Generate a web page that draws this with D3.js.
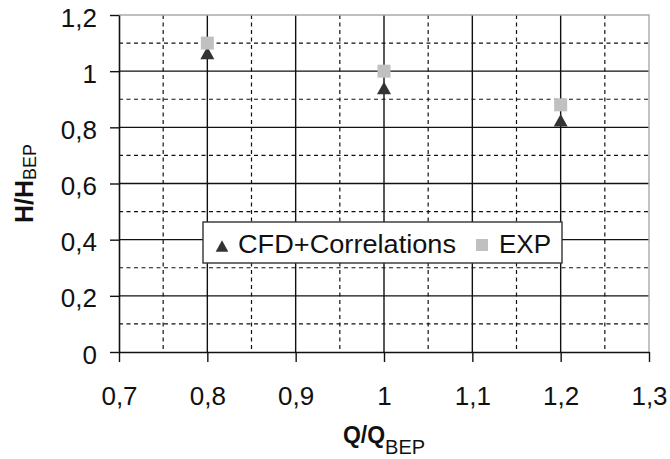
<!DOCTYPE html>
<html>
<head>
<meta charset="utf-8">
<script src="https://cdn.jsdelivr.net/npm/d3@7"></script>
<style>
  html, body { margin: 0; padding: 0; background: #fff; }
  svg { display: block; font-family: "Liberation Sans", Arial, sans-serif; }
</style>
</head>
<body>
<svg id="chart" width="670" height="459"></svg>
<script>
// ---- data ----
const flowRatio = [0.8, 1.0, 1.2];           // Q/Q_BEP
const cfdHead   = [1.065, 0.94, 0.825];      // CFD+Correlations H/H_BEP
const expHead   = [1.10, 1.00, 0.88];        // EXP H/H_BEP
const xTicks = [0.7, 0.8, 0.9, 1.0, 1.1, 1.2, 1.3];
const yTicks = [0, 0.2, 0.4, 0.6, 0.8, 1.0, 1.2];
const xMinor = [0.75, 0.85, 0.95, 1.05, 1.15, 1.25];
const yMinor = [0.1, 0.3, 0.5, 0.7, 0.9, 1.1];
const seriesNames = ["CFD+Correlations", "EXP"];

const svg = d3.select("#chart");
const pL = 119, pR = 649, pT = 15, pB = 352;
const x = d3.scaleLinear().domain([0.7, 1.3]).range([pL, pR]);
const y = d3.scaleLinear().domain([0, 1.2]).range([pB, pT]);
const loc = d3.formatLocale({decimal: ",", thousands: ".", grouping: [3], currency: ["", ""]});
const fmt = v => loc.format("~g")(+v.toFixed(2));

// minor dashed grid
const g = svg.append("g");
g.selectAll("line.vmin").data(xMinor).join("line")
  .attr("x1", d => x(d)).attr("x2", d => x(d)).attr("y1", pT).attr("y2", pB)
  .attr("stroke", "#111").attr("stroke-width", 1.2).attr("stroke-dasharray", "4,3.5");
g.selectAll("line.hmin").data(yMinor).join("line")
  .attr("y1", d => y(d)).attr("y2", d => y(d)).attr("x1", pL).attr("x2", pR)
  .attr("stroke", "#111").attr("stroke-width", 1.2).attr("stroke-dasharray", "4,3.5");
// major solid grid
g.selectAll("line.vmaj").data(xTicks.slice(1, -1)).join("line")
  .attr("x1", d => x(d)).attr("x2", d => x(d)).attr("y1", pT).attr("y2", pB)
  .attr("stroke", "#111").attr("stroke-width", 1.4);
g.selectAll("line.hmaj").data(yTicks.slice(1, -1)).join("line")
  .attr("y1", d => y(d)).attr("y2", d => y(d)).attr("x1", pL).attr("x2", pR)
  .attr("stroke", "#111").attr("stroke-width", 1.4);
// top/right border (gray)
svg.append("path")
  .attr("d", `M${pL},${y(1.2)}H${x(1.3)}V${pB}`)
  .attr("fill", "none").attr("stroke", "#aaa").attr("stroke-width", 1.4);

// axes
const xAxis = svg.append("g").attr("transform", `translate(0,${pB})`)
  .call(d3.axisBottom(x).tickValues(xTicks).tickFormat(fmt).tickSize(10).tickPadding(0).tickSizeOuter(0));
const yAxis = svg.append("g").attr("transform", `translate(${pL},0)`)
  .call(d3.axisLeft(y).tickValues(yTicks).tickFormat(fmt).tickSize(9).tickPadding(0).tickSizeOuter(0));
[xAxis, yAxis].forEach(a => {
  a.select(".domain").attr("stroke", "#111").attr("stroke-width", 1.6);
  a.selectAll(".tick line").attr("stroke", "#111").attr("stroke-width", 1.4);
  a.selectAll(".tick text").attr("fill", "#111").attr("font-size", 26)
    .attr("font-family", "'Liberation Sans', Arial, sans-serif");
});
xAxis.selectAll(".tick text").attr("dy", null).attr("y", 53);
yAxis.selectAll(".tick text").attr("dy", null).attr("x", -22).attr("y", 11);

// triangle centered on its bounding box
const triType = {
  draw(ctx, size) {
    const w = Math.sqrt(size), h = w * 0.9;
    ctx.moveTo(0, -h / 2); ctx.lineTo(w / 2, h / 2); ctx.lineTo(-w / 2, h / 2); ctx.closePath();
  }
};
const tri = d3.symbol().type(triType).size(196)();
const sq = d3.symbol().type(d3.symbolSquare).size(169)();

svg.append("g").selectAll("path").data(flowRatio).join("path")
  .attr("d", tri).attr("fill", "#333")
  .attr("transform", (d, i) => `translate(${x(d)},${y(cfdHead[i])})`);
svg.append("g").selectAll("path").data(flowRatio).join("path")
  .attr("d", sq).attr("fill", "#c0c0c0")
  .attr("transform", (d, i) => `translate(${x(d)},${y(expHead[i])})`);

// legend
const lg = svg.append("g");
lg.append("rect").attr("x", 203).attr("y", 222).attr("width", 359).attr("height", 41)
  .attr("fill", "#fff").attr("stroke", "#333").attr("stroke-width", 1.4);
lg.append("path").attr("d", d3.symbol().type(triType).size(160)())
  .attr("fill", "#333").attr("transform", "translate(222,246)");
lg.append("text").attr("x", 238).attr("y", 253).attr("font-size", 26).attr("fill", "#111")
  .attr("textLength", 218).attr("lengthAdjust", "spacingAndGlyphs").text(seriesNames[0]);
lg.append("path").attr("d", d3.symbol().type(d3.symbolSquare).size(144)())
  .attr("fill", "#c0c0c0").attr("transform", "translate(482,245)");
lg.append("text").attr("x", 499).attr("y", 253).attr("font-size", 26).attr("fill", "#111")
  .text(seriesNames[1]);

// axis titles
const xt = svg.append("text").attr("x", (pL + pR) / 2).attr("y", 443)
  .attr("text-anchor", "middle").attr("fill", "#111");
xt.append("tspan").attr("font-weight", "bold").attr("font-size", 23).text("Q/Q");
xt.append("tspan").attr("font-size", 20).attr("dy", 11).text("BEP");

const yt = svg.append("text").attr("transform", `translate(33,${(pT + pB) / 2}) rotate(-90)`)
  .attr("text-anchor", "middle").attr("fill", "#111");
yt.append("tspan").attr("font-weight", "bold").attr("font-size", 25).text("H/H");
yt.append("tspan").attr("font-size", 18).attr("dy", 3).text("BEP");
</script>
</body>
</html>
